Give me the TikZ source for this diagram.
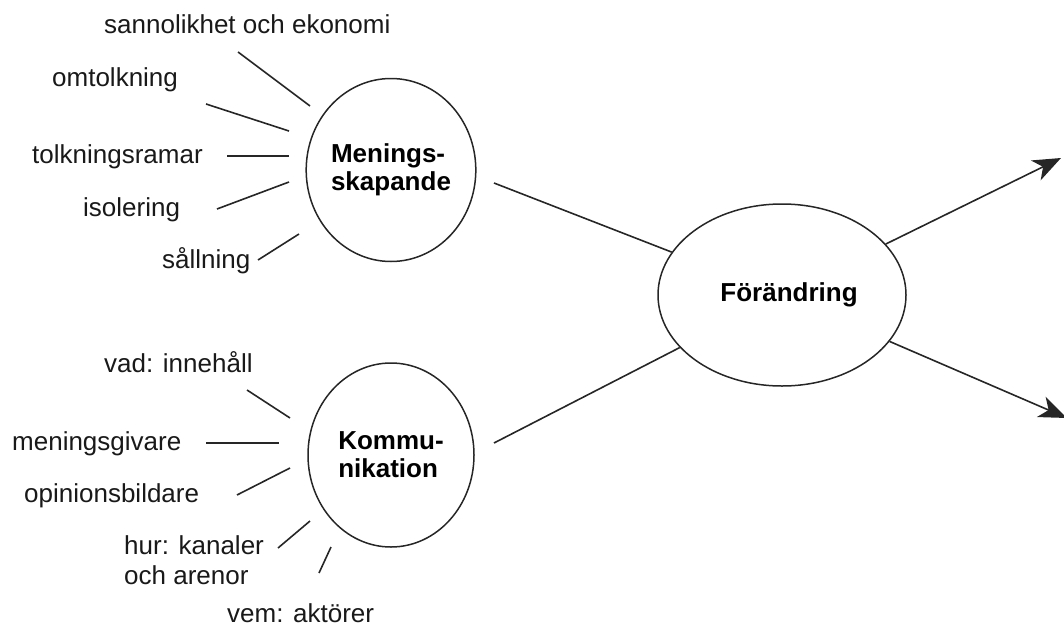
\documentclass[tikz,border=0pt]{standalone}
\usepackage{fontspec}
\setmainfont{Liberation Sans}
\usetikzlibrary{shapes.geometric,arrows.meta}
\tikzset{
  oval/.style={draw=black!85, line width=1.5pt, ellipse, inner sep=0pt, align=left,
               font=\fontsize{26}{28}\selectfont\bfseries},
  lbl/.style={anchor=base west, inner sep=0pt, align=left,
              font=\fontsize{26}{30}\selectfont, text=black!90},
  spoke/.style={draw=black!85, line width=1.6pt},
  conn/.style={draw=black!85, line width=1.6pt},
  arr/.style={conn, -{Stealth[length=28pt,width=22pt,inset=8pt]}}
}
\begin{document}
\begin{tikzpicture}[x=1pt,y=-1pt]
\useasboundingbox (0,0) rectangle (1064,626);

% main ovals
\node[oval, minimum width=166pt, minimum height=183pt] (M) at (391,170) {Menings-\\skapande};
\node[oval, minimum width=166pt, minimum height=184pt] (K) at (391,455) {Kommu-\\nikation};
\node[oval, minimum width=248pt, minimum height=182pt] (F) at (782,295) {\raisebox{-6pt}{\hspace{14pt}Förändring}};

% labels around Meningsskapande
\node[lbl] (l1) at (104,34) {sannolikhet och ekonomi};
\node[lbl] (l2) at (52,86) {omtolkning};
\node[lbl] (l3) at (32,163) {tolkningsramar};
\node[lbl] (l4) at (83,216) {isolering};
\node[lbl] (l5) at (162,268) {sållning};

% labels around Kommunikation
\node[lbl] (m1) at (104,372) {vad: innehåll};
\node[lbl] (m2) at (12,450) {meningsgivare};
\node[lbl] (m3) at (24,502) {opinionsbildare};
\node[lbl] (m4) at (124,584) {hur: kanaler\\och arenor};
\node[lbl] (m5) at (227,622) {vem: aktörer};

% spoke coordinates (Meningsskapande)
\coordinate (a1) at (238,52);  \coordinate (b1) at (310,106);
\coordinate (a2) at (206,104); \coordinate (b2) at (289,131);
\coordinate (a3) at (227,156); \coordinate (b3) at (289,156);
\coordinate (a4) at (217,209); \coordinate (b4) at (289,182);
\coordinate (a5) at (258,260); \coordinate (b5) at (299,234);
% spoke coordinates (Kommunikation)
\coordinate (c1) at (247,390); \coordinate (d1) at (290,418);
\coordinate (c2) at (206,443); \coordinate (d2) at (279,443);
\coordinate (c3) at (237,495); \coordinate (d3) at (290,468);
\coordinate (c4) at (278,548); \coordinate (d4) at (310,521);
\coordinate (c5) at (319,573); \coordinate (d5) at (331,547);

\foreach \i in {1,...,5} {
  \draw[spoke] (a\i) -- (b\i);
  \draw[spoke] (c\i) -- (d\i);
}

% connectors to Förändring
\coordinate (mo) at (494,183);
\coordinate (ko) at (494,443);
\draw[conn] (mo) -- (F);
\draw[conn] (ko) -- (F);

% outgoing arrows
\coordinate (up) at (1061,158);
\coordinate (dn) at (1067,418);
\draw[arr] (F) -- (up);
\draw[arr] (F) -- (dn);
\end{tikzpicture}
\end{document}
